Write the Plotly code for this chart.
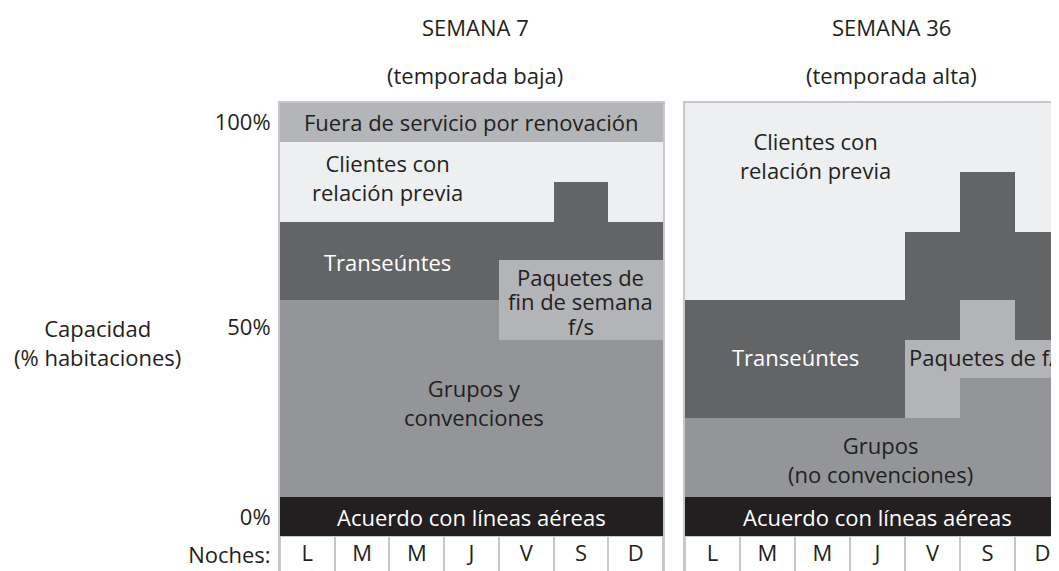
import plotly.graph_objects as go

# ---------------- data ----------------
nights = ["L", "M", "M", "J", "V", "S", "D"]
x_idx = list(range(len(nights)))

# Semana 7 (temporada baja) – capacity units (stacked, bottom -> top)
w7_airline = [9.0, 9.0, 9.0, 9.0, 9.0, 9.0, 9.0]
w7_groups = [45.5, 45.5, 45.5, 45.5, 36.2, 36.2, 36.2]
w7_packages = [0, 0, 0, 0, 18.5, 18.5, 18.5]
w7_transient = [18.0, 18.0, 18.0, 18.0, 8.8, 18.0, 8.8]
w7_repeat = [18.5, 18.5, 18.5, 18.5, 18.5, 9.3, 18.5]
w7_out_of_order = [9.0, 9.0, 9.0, 9.0, 9.0, 9.0, 9.0]

# Semana 36 (temporada alta)
w36_airline = [9.0, 9.0, 9.0, 9.0, 9.0, 9.0, 9.0]
w36_groups = [18.2, 18.2, 18.2, 18.2, 18.2, 27.5, 27.5]
w36_packages = [0, 0, 0, 0, 18.0, 18.0, 8.8]
w36_transient = [27.3, 27.3, 27.3, 27.3, 24.9, 29.6, 24.9]
w36_repeat = [45.5, 45.5, 45.5, 45.5, 29.9, 15.9, 29.8]

tick_vals = [95.6, 48.3, 4.4, -4.4]
tick_text = ["100%", "50%", "0%", "Noches:"]
row_height = 10  # height of the "Noches" cell row

# ---------------- style ----------------
FONT = "Open Sans"
DARK = "#231f20"
C_AIR = "#231f20"
C_GRP = "#939598"
C_PKG = "#b3b4b7"
C_TRN = "#636466"
C_REP = "#eeeff1"
C_OOO = "#b4b5b8"
BORDER = "#c5c8cc"
FS = 22

OFF = 8                 # page body margin in the browser
SW, SH = 1059, 571      # screen size
W, H = SW - OFF, SH - OFF


def px_x(X):
    return (X - OFF) / W


def px_y(Y):
    return (SH - Y) / H


fig = go.Figure()


def add_panel(xa, ya, series):
    fig.add_trace(go.Bar(
        x=x_idx, y=[row_height] * 7, base=[-row_height] * 7,
        marker=dict(color="white", line=dict(color=BORDER, width=2)),
        xaxis=xa, yaxis=ya, showlegend=False, hoverinfo="skip"))
    for vals, col in series:
        fig.add_trace(go.Bar(
            x=x_idx, y=vals, marker=dict(color=col, line=dict(width=0)),
            xaxis=xa, yaxis=ya, showlegend=False))
    fig.add_trace(go.Scatter(
        x=x_idx, y=[-4.4] * 7, text=nights, mode="text",
        textfont=dict(family=FONT, size=FS, color=DARK),
        xaxis=xa, yaxis=ya, showlegend=False, hoverinfo="skip"))


add_panel("x", "y", [
    (w7_airline, C_AIR), (w7_groups, C_GRP), (w7_packages, C_PKG),
    (w7_transient, C_TRN), (w7_repeat, C_REP), (w7_out_of_order, C_OOO)])
add_panel("x2", "y2", [
    (w36_airline, C_AIR), (w36_groups, C_GRP), (w36_packages, C_PKG),
    (w36_transient, C_TRN), (w36_repeat, C_REP)])

ytop = px_y(103)
ymin = -35 / 4.33

axis_common = dict(showgrid=False, zeroline=False, showline=True,
                   linecolor=BORDER, linewidth=2, fixedrange=True)

fig.update_layout(
    width=W, height=H,
    margin=dict(l=0, r=0, t=0, b=0),
    paper_bgcolor="white", plot_bgcolor="white",
    barmode="stack", bargap=0,
    font=dict(family=FONT, size=FS, color=DARK),
    xaxis=dict(domain=[px_x(280), px_x(663)], range=[-0.5, 6.5], side="top",
               showticklabels=False, ticks="", anchor="y", **axis_common),
    yaxis=dict(domain=[0, ytop], range=[ymin, 100], mirror=True,
               tickvals=tick_vals, ticktext=tick_text, ticks="",
               ticklabelstandoff=3,
               tickfont=dict(family=FONT, size=FS, color=DARK),
               anchor="x", **axis_common),
    xaxis2=dict(domain=[px_x(685), 1.0], range=[-0.5, -0.5 + (SW - 685) / 55.0],
                side="top", showticklabels=False, ticks="", anchor="y2",
                **axis_common),
    yaxis2=dict(domain=[0, ytop], range=[ymin, 100], mirror=False,
                showticklabels=False, ticks="", anchor="x2", **axis_common),
)

ann = []


def label(text, x, y, xr, yr, color=DARK, xanchor="center"):
    ann.append(dict(text=text, x=x, y=y, xref=xr, yref=yr, showarrow=False,
                    xanchor=xanchor, yanchor="middle",
                    font=dict(family=FONT, size=FS, color=color)))


# left panel labels
label("Fuera de servicio por renovación", 3.0, 95.6, "x", "y")
label("Clientes con<br>relación previa", 1.47, 82.7, "x", "y")
label("Transeúntes", 1.47, 63.3, "x", "y", color="white")
label("Paquetes de", 5.0, 59.8, "x", "y")
label("fin de semana", 5.0, 54.3, "x", "y")
label("f/s", 5.0, 48.5, "x", "y")
label("Grupos y<br>convenciones", 3.05, 30.9, "x", "y")
label("Acuerdo con líneas aéreas", 3.0, 4.4, "x", "y", color="white")

# right panel labels
label("Clientes con<br>relación previa", 1.88, 87.8, "x2", "y2")
label("Transeúntes", 1.5, 41.3, "x2", "y2", color="white")
label("Paquetes de f/s", 3.54, 41.3, "x2", "y2", xanchor="left")
label("Grupos<br>(no convenciones)", 3.05, 17.6, "x2", "y2")
label("Acuerdo con líneas aéreas", 3.0, 4.4, "x2", "y2", color="white")

# titles & axis title
label("SEMANA 7", px_x(475), px_y(27), "paper", "paper")
label("(temporada baja)", px_x(475), px_y(75), "paper", "paper")
label("SEMANA 36", px_x(891), px_y(27), "paper", "paper")
label("(temporada alta)", px_x(891), px_y(75), "paper", "paper")
label("Capacidad<br>(% habitaciones)", px_x(97), px_y(342), "paper", "paper")

fig.update_layout(annotations=ann)

fig.write_html("out.html")
